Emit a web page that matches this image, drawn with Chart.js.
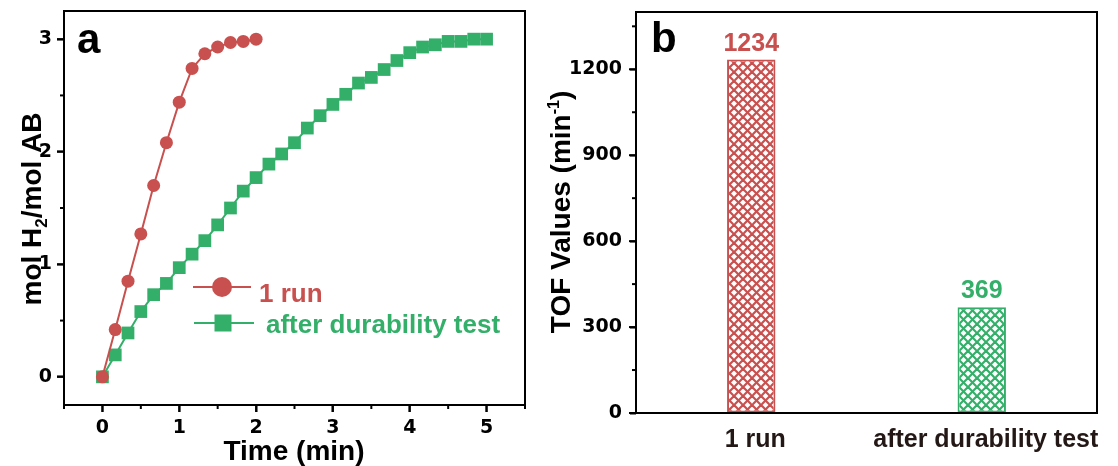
<!DOCTYPE html>
<html><head><meta charset="utf-8">
<script src="https://cdn.jsdelivr.net/npm/chart.js@4.4.1/dist/chart.umd.min.js"></script>
<style>
html,body{margin:0;padding:0;background:#fff;width:1118px;height:466px;overflow:hidden}
#ca{position:absolute;left:0;top:0}
#cb{position:absolute;left:545px;top:0}
</style></head><body>
<canvas id="ca" width="545" height="466"></canvas>
<canvas id="cb" width="573" height="466"></canvas>
<script>
// ---------- data ----------
const run1Time = [0, 0.167, 0.333, 0.5, 0.667, 0.833, 1.0, 1.167, 1.333, 1.5, 1.667, 1.833, 2.0];
const run1H2   = [0, 0.42, 0.85, 1.27, 1.70, 2.08, 2.44, 2.74, 2.87, 2.93, 2.97, 2.98, 3.00];
const durTime  = [0, 0.167, 0.333, 0.5, 0.667, 0.833, 1.0, 1.167, 1.333, 1.5, 1.667, 1.833, 2.0,
                  2.167, 2.333, 2.5, 2.667, 2.833, 3.0, 3.167, 3.333, 3.5, 3.667, 3.833, 4.0,
                  4.167, 4.333, 4.5, 4.667, 4.833, 5.0];
const durH2    = [0, 0.195, 0.39, 0.58, 0.73, 0.83, 0.97, 1.09, 1.21, 1.35, 1.50, 1.65, 1.77,
                  1.89, 1.98, 2.08, 2.21, 2.32, 2.42, 2.51, 2.61, 2.66, 2.73, 2.81, 2.88,
                  2.93, 2.95, 2.98, 2.98, 3.00, 3.00];
const seriesNames = ['1 run', 'after durability test'];
const xTicksA = [0, 1, 2, 3, 4, 5];
const xMinorA = [-0.5, 0.5, 1.5, 2.5, 3.5, 4.5, 5.5];
const yTicksA = [0, 1, 2, 3];
const yMinorA = [0.5, 1.5, 2.5];
const barCats = ['1 run', 'after durability test'];
const tofValues = [1234, 369];
const yTicksB = [0, 300, 600, 900, 1200];
const yMinorB = [150, 450, 750, 1050, 1350];

const RED = '#C8504E', GREEN = '#34AF6A', INK = '#231815';
const FAM = '"Liberation Sans", Arial, sans-serif';
const WIDE = '"DejaVu Sans", Verdana, sans-serif';
function fontStr(s){ return 'bold ' + s + 'px ' + FAM; }

Chart.defaults.font.family = FAM;
Chart.defaults.font.size = 20;
Chart.defaults.font.weight = 'bold';
Chart.defaults.font.lineHeight = 1;
Chart.defaults.color = '#000';
const tickFontW = {family: WIDE, size: 19, weight: 'bold', lineHeight: 1};

function hatch(color){
  const n = 9, c = document.createElement('canvas');
  c.width = n; c.height = n;
  const g = c.getContext('2d');
  g.fillStyle = '#fff'; g.fillRect(0,0,n,n);
  g.strokeStyle = color; g.lineWidth = 2.2;
  [-n, 0, n].forEach(k => {
    g.beginPath(); g.moveTo(k, 0); g.lineTo(k + n, n); g.stroke();
    g.beginPath(); g.moveTo(k + n, 0); g.lineTo(k, n); g.stroke();
  });
  return g.createPattern(c, 'repeat');
}

function drawParts(ctx, parts, x, y, rot){
  ctx.save(); ctx.translate(x, y); ctx.rotate(rot);
  let total = 0;
  parts.forEach(p => { ctx.font = fontStr(p.size); p.w = ctx.measureText(p.t).width; total += p.w; });
  let cx = -total / 2;
  ctx.textBaseline = 'alphabetic'; ctx.textAlign = 'left';
  parts.forEach(p => { ctx.font = fontStr(p.size); ctx.fillStyle = p.color || '#000'; ctx.fillText(p.t, cx, p.dy || 0); cx += p.w; });
  ctx.restore();
}

const frame = {
  id: 'frame',
  afterDraw(chart, args, opts){
    const ctx = chart.ctx, a = chart.chartArea;
    ctx.save(); ctx.strokeStyle = '#000'; ctx.lineWidth = 2;
    const xt = (vals, len) => vals.forEach(v => {
      const px = chart.scales.x.getPixelForValue(v);
      ctx.beginPath(); ctx.moveTo(px, a.bottom); ctx.lineTo(px, a.bottom + len); ctx.stroke();
    });
    const yt = (vals, len) => vals.forEach(v => {
      const py = chart.scales.y.getPixelForValue(v);
      ctx.beginPath(); ctx.moveTo(a.left, py); ctx.lineTo(a.left - len, py); ctx.stroke();
    });
    xt(opts.x || [], 4); xt(opts.xMajor || [], 7);
    yt(opts.y || [], 4); yt(opts.yMajor || [], 7);
    ctx.strokeRect(a.left, a.top, a.right - a.left, a.bottom - a.top);
    ctx.restore();
    if (opts.extra) opts.extra(chart, ctx, a);
  }
};

function noPad(s){ s.paddingTop = 0; s.paddingBottom = 0; s.paddingLeft = 0; s.paddingRight = 0; }

// ---------- chart a ----------
new Chart(document.getElementById('ca'), {
  type: 'scatter',
  data: {
    datasets: [
      { label: seriesNames[0], data: run1Time.map((t, i) => ({x: t, y: run1H2[i]})),
        showLine: true, borderColor: RED, backgroundColor: RED, borderWidth: 2,
        pointStyle: 'circle', pointRadius: 6.5, pointBorderWidth: 0 },
      { label: seriesNames[1], data: durTime.map((t, i) => ({x: t, y: durH2[i]})),
        showLine: true, borderColor: GREEN, backgroundColor: GREEN, borderWidth: 2,
        pointStyle: 'rect', pointRadius: 9, pointBorderWidth: 0 }
    ]
  },
  options: {
    responsive: false, animation: false, devicePixelRatio: 1,
    layout: {padding: {left: 0, right: 20, top: 11, bottom: 0}},
    plugins: {
      legend: {display: false}, tooltip: {enabled: false},
      frame: {
        x: xMinorA, y: yMinorA, xMajor: xTicksA, yMajor: yTicksA,
        extra(chart, ctx, a){
          ctx.save(); ctx.fillStyle = '#000'; ctx.font = fontStr(42); ctx.textBaseline = 'alphabetic';
          ctx.fillText('a', 77, 53); ctx.restore();
          drawParts(ctx, [{t: 'mol H', size: 28}, {t: '2', size: 17, dy: 6}, {t: '/mol AB', size: 28}], 41, 209, -Math.PI / 2);
          drawParts(ctx, [{t: 'Time (min)', size: 28}], 294, 460, 0);
          ctx.save();
          ctx.lineWidth = 2;
          ctx.strokeStyle = RED; ctx.beginPath(); ctx.moveTo(193, 287); ctx.lineTo(251, 287); ctx.stroke();
          ctx.fillStyle = RED; ctx.beginPath(); ctx.arc(222, 287, 10, 0, Math.PI * 2); ctx.fill();
          ctx.font = fontStr(26); ctx.textBaseline = 'alphabetic';
          ctx.fillText(seriesNames[0], 259, 301.5);
          ctx.strokeStyle = GREEN; ctx.beginPath(); ctx.moveTo(194, 323); ctx.lineTo(254, 323); ctx.stroke();
          ctx.fillStyle = GREEN; ctx.fillRect(223 - 8.5, 323 - 8.5, 17, 17);
          ctx.fillText(seriesNames[1], 266, 333);
          ctx.restore();
        }
      }
    },
    scales: {
      x: {
        type: 'linear', min: -0.5, max: 5.5,
        afterBuildTicks(s){ s.ticks = xTicksA.map(v => ({value: v})); },
        afterFit(s){ s.height = 61; noPad(s); },
        grid: {drawOnChartArea: false, drawTicks: true, tickLength: 7, tickColor: '#000', tickWidth: 2},
        border: {display: false},
        ticks: {color: '#000', font: tickFontW, padding: 7, maxRotation: 0, callback: v => String(v)}
      },
      y: {
        type: 'linear', min: -0.25, max: 3.25,
        afterBuildTicks(s){ s.ticks = yTicksA.map(v => ({value: v})); },
        afterFit(s){ s.width = 64; noPad(s); },
        grid: {drawOnChartArea: false, drawTicks: true, tickLength: 7, tickColor: '#000', tickWidth: 2},
        border: {display: false},
        ticks: {color: '#000', font: tickFontW, padding: 5, callback: v => String(v)}
      }
    }
  },
  plugins: [frame]
});

// ---------- chart b ----------
new Chart(document.getElementById('cb'), {
  type: 'bar',
  data: {
    labels: barCats,
    datasets: [{
      data: tofValues,
      backgroundColor: [hatch(RED), hatch(GREEN)],
      borderColor: [RED, GREEN], borderWidth: 2, borderSkipped: false,
      barPercentage: 0.21, categoryPercentage: 1
    }]
  },
  options: {
    responsive: false, animation: false, devicePixelRatio: 1,
    layout: {padding: {left: 0, right: 21, top: 12, bottom: 0}},
    plugins: {
      legend: {display: false}, tooltip: {enabled: false},
      frame: {
        y: yMinorB, yMajor: yTicksB,
        extra(chart, ctx, a){
          ctx.save(); ctx.fillStyle = '#000'; ctx.font = fontStr(42); ctx.textBaseline = 'alphabetic';
          ctx.fillText('b', 651 - 545, 52); ctx.restore();
          drawParts(ctx, [{t: 'TOF Values (min', size: 28}, {t: '-1', size: 16, dy: -11}, {t: ')', size: 28}], 570 - 545, 212, -Math.PI / 2);
          const meta = chart.getDatasetMeta(0);
          const cols = [RED, GREEN];
          ctx.save(); ctx.font = fontStr(25); ctx.textAlign = 'center'; ctx.textBaseline = 'alphabetic';
          meta.data.forEach((bar, i) => {
            ctx.fillStyle = cols[i];
            ctx.fillText(String(tofValues[i]), bar.x, bar.y - 9);
          });
          ctx.restore();
        }
      }
    },
    scales: {
      x: {
        afterFit(s){ s.height = 53; noPad(s); },
        grid: {display: false},
        border: {display: false},
        ticks: {color: INK, font: {size: 25}, padding: 7, labelOffset: 4,
                maxRotation: 0, minRotation: 0, autoSkip: false}
      },
      y: {
        min: 0, max: 1400,
        afterBuildTicks(s){ s.ticks = yTicksB.map(v => ({value: v})); },
        afterFit(s){ s.width = 91; noPad(s); },
        grid: {drawOnChartArea: false, drawTicks: true, tickLength: 6, tickColor: '#000', tickWidth: 2},
        border: {display: false},
        ticks: {color: '#000', padding: 8, font: tickFontW, callback: v => String(v)}
      }
    }
  },
  plugins: [frame]
});
</script>
</body></html>
